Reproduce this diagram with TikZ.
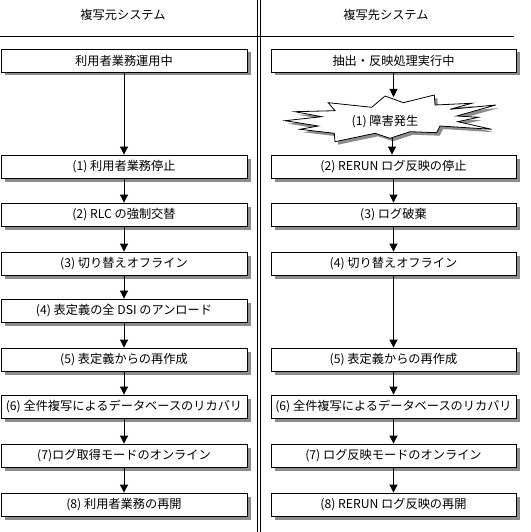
\documentclass[tikz,border=0pt]{standalone}
\usepackage{fontspec}
\setmainfont{Noto Sans CJK JP}
\usetikzlibrary{arrows.meta,shadows}
\newcommand\burstpath{(328.3,102.7)--(371.7,107.3)--(385,96)--(403.3,102.7)--(434.3,95)--(435,105)--(471.7,103.3)--(450,109.3)--(495.7,105)--(456.7,116)--(478.3,117.3)--(457.7,121.7)--(491.7,129.3)--(440,126)--(436.7,132.7)--(410,131.7)--(390,138.3)--(375,133.3)--(335,141.7)--(334.3,133.3)--(300,129.3)--(318.3,126)--(285,120.7)--(321.7,116.7)--(295,111.7)--(335,110.7)--cycle}

\begin{document}
\begin{tikzpicture}[x=1pt,y=-1pt,every node/.style={font=\fontsize{12.2}{14}\selectfont},
  stepbox/.style={draw,line width=.8pt,fill=white,minimum height=23pt,inner sep=0pt,
    drop shadow={shadow xshift=3.5pt,shadow yshift=-3.5pt,fill=black!45,opacity=1}},
  lbox/.style={stepbox,minimum width=246pt},
  rbox/.style={stepbox,minimum width=245pt},
  flow/.style={line width=.8pt,-{Triangle[length=8pt,width=8pt]}}]
\useasboundingbox (0,0) rectangle (530,532);
\draw[line width=.8pt] (257,0)--(257,532);
\draw[line width=.8pt] (260,0)--(260,532);
\draw[line width=.8pt] (0,36)--(514,36);
\node (t1) at (123,15) {複写元システム};
\node (t2) at (386,15) {複写先システム};
\node[lbox] (l0) at (124,60.5) {利用者業務運用中};
\node[lbox] (l1) at (124,166.5) {(1) 利用者業務停止};
\node[lbox] (l2) at (124,214.5) {(2) RLC の強制交替};
\node[lbox] (l3) at (124,263.5) {(3) 切り替えオフライン};
\node[lbox] (l4) at (124,310.5) {(4) 表定義の全 DSI のアンロード};
\node[lbox] (l5) at (124,359.5) {(5) 表定義からの再作成};
\node[lbox] (l6) at (124,406.5) {(6) 全件複写によるデータベースのリカバリ};
\node[lbox] (l7) at (124,455.5) {(7)ログ取得モードのオンライン};
\node[lbox] (l8) at (124,504.5) {(8) 利用者業務の再開};
\node[rbox] (r0) at (393.5,60.5) {抽出・反映処理実行中};
\fill[black!45,shift={(3,3)}] \burstpath;
\draw[line width=.8pt,fill=white] \burstpath;
\node (f1) at (385,122) {(1) 障害発生};
\coordinate (ftop) at (392,97);
\coordinate (fbot) at (392,137.7);
\node[rbox] (r2) at (393.5,166.5) {(2) RERUN ログ反映の停止};
\node[rbox] (r3) at (393.5,214.5) {(3) ログ破棄};
\node[rbox] (r4) at (393.5,263.5) {(4) 切り替えオフライン};
\node[rbox] (r5) at (393.5,359.5) {(5) 表定義からの再作成};
\node[rbox] (r6) at (393.5,406.5) {(6) 全件複写によるデータベースのリカバリ};
\node[rbox] (r7) at (393.5,455.5) {(7) ログ反映モードのオンライン};
\node[rbox] (r8) at (393.5,504.5) {(8) RERUN ログ反映の再開};
\foreach \a/\b in {l0/l1,l1/l2,l2/l3,l3/l4,l4/l5,l5/l6,l6/l7,l7/l8,r2/r3,r3/r4,r4/r5,r5/r6,r6/r7,r7/r8}
  \draw[flow] (\a.south)--(\b.north);
\draw[flow] (r0.south)--(r0.south |- ftop);
\draw[flow] (fbot)--(fbot |- r2.north);
\end{tikzpicture}
\end{document}
